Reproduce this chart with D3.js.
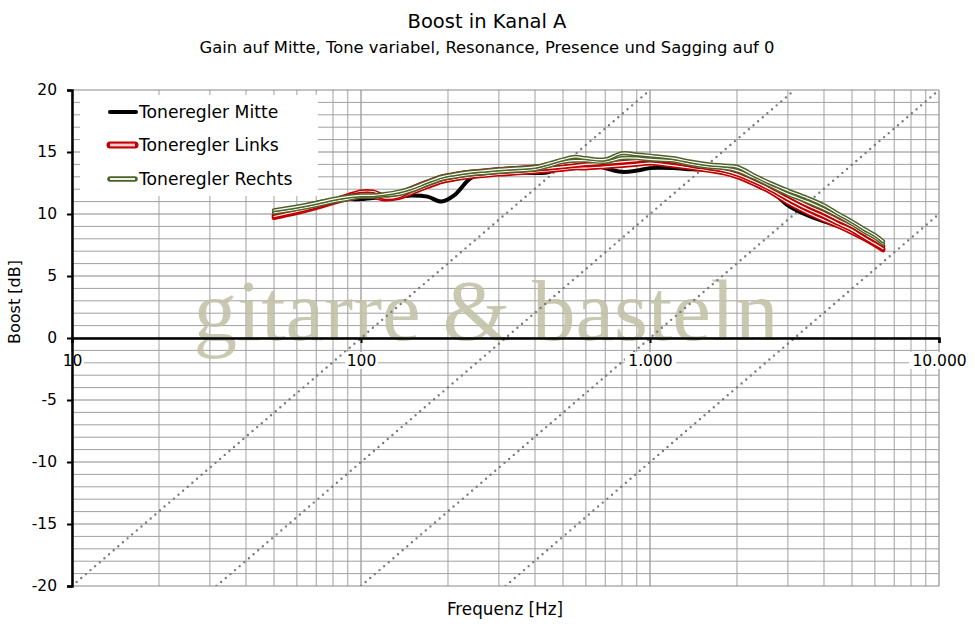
<!DOCTYPE html>
<html><head><meta charset="utf-8">
<script src="https://cdn.jsdelivr.net/npm/d3@7"></script>
<style>body{margin:0;background:#fff}svg{display:block}text{font-family:"DejaVu Sans",sans-serif}</style>
</head><body><svg id="c" width="975" height="630"></svg>
<script>
// ---- data ----
const freqs = [50,60,70,80,90,100,110,120,135,150,170,190,210,240,270,300,350,400,450,500,550,600,700,800,900,1000,1200,1400,1600,1800,2000,2300,2600,3000,3500,4000,4500,5000,5500,6000,6400];
const mitte = [9.9,10.5,10.9,11.1,11.2,11.2,11.3,11.3,11.4,11.5,11.4,11.0,11.5,12.9,13.3,13.5,13.4,13.3,13.4,14.1,14.4,14.3,13.7,13.4,13.5,13.7,13.7,13.6,13.6,13.5,13.4,12.8,12.0,10.7,9.9,9.4,9.0,8.6,8.1,7.6,7.1];
const links1 = [9.9,10.3,10.7,11.1,11.5,11.8,11.8,11.5,11.6,12.1,12.6,13.0,13.2,13.4,13.5,13.6,13.7,13.8,13.9,14.0,14.1,14.2,14.3,14.4,14.5,14.6,14.4,14.1,13.9,13.7,13.4,12.9,12.3,11.5,10.7,10.1,9.5,9.0,8.4,7.9,7.4];
const links2 = [9.8,10.2,10.6,11.0,11.4,11.6,11.6,11.3,11.4,11.9,12.4,12.8,13.0,13.2,13.3,13.4,13.5,13.6,13.7,13.8,13.9,14.0,14.1,14.2,14.3,14.4,14.2,13.9,13.7,13.5,13.2,12.6,12.0,11.2,10.4,9.8,9.2,8.7,8.1,7.6,7.2];
const links3 = [9.7,10.1,10.5,10.9,11.2,11.4,11.4,11.2,11.3,11.7,12.2,12.6,12.8,13.0,13.1,13.2,13.3,13.4,13.5,13.6,13.7,13.7,13.8,13.9,14.0,14.1,13.9,13.7,13.5,13.3,13.0,12.4,11.8,10.9,10.1,9.5,9.0,8.5,8.0,7.5,7.1];
const rechts1 = [10.3,10.6,10.9,11.2,11.4,11.5,11.5,11.6,11.8,12.1,12.6,13.0,13.2,13.4,13.5,13.6,13.7,13.8,14.1,14.4,14.6,14.5,14.4,14.9,14.8,14.7,14.5,14.2,14.0,13.9,13.8,13.1,12.5,11.9,11.3,10.7,10.0,9.4,8.8,8.3,7.8];
const rechts2 = [10.1,10.4,10.7,11.0,11.2,11.4,11.4,11.5,11.6,11.9,12.4,12.8,13.0,13.2,13.3,13.4,13.5,13.6,13.9,14.2,14.3,14.3,14.2,14.5,14.5,14.4,14.3,14.0,13.8,13.7,13.5,12.9,12.3,11.6,11.0,10.4,9.8,9.2,8.6,8.1,7.6];
const yTicks = [-20,-15,-10,-5,0,5,10,15,20];
const xTicks = [10,100,1000,10000];
const guideZeroFreqs = [100,316.23,1000,3162.3]; // 20 dB/decade guide lines, 0 dB crossing
const legendNames = ["Toneregler Mitte","Toneregler Links","Toneregler Rechts"];

// ---- chart ----
const svg = d3.select("#c");
const x = d3.scaleLog().domain([10,10000]).range([72,939]);
const y = d3.scaleLinear().domain([-20,20]).range([586,90]);
const de = d3.formatLocale({decimal:",",thousands:".",grouping:[3],currency:["","€"]});

// grid
const g = svg.append("g");
const minorX = [];
[10,100,1000].forEach(d=>{for(let k=2;k<=9;k++)minorX.push(d*k);});
g.selectAll(".vx").data(minorX).join("line").attr("x1",d=>x(d)).attr("x2",d=>x(d)).attr("y1",y(20)).attr("y2",y(-20)).attr("stroke","#a0a0a0");
g.selectAll(".vM").data(xTicks).join("line").attr("x1",d=>x(d)).attr("x2",d=>x(d)).attr("y1",y(20)).attr("y2",y(-20)).attr("stroke","#7a7a7a");
g.selectAll(".hy").data(d3.range(-20,21)).join("line").attr("x1",x(10)).attr("x2",x(10000)).attr("y1",d=>y(d)).attr("y2",d=>y(d)).attr("stroke",d=>d%5===0?"#888":"#a0a0a0");

// watermark
svg.append("text").attr("x",486).attr("y",340).attr("text-anchor","middle")
  .style("font-family","'Liberation Serif',serif").attr("font-size",86)
  .attr("textLength",585).attr("lengthAdjust","spacingAndGlyphs")
  .attr("fill","#c2c2a8").attr("opacity",0.88).text("gitarre & basteln");

// guide lines
svg.append("clipPath").attr("id","pc").append("rect").attr("x",72).attr("y",90).attr("width",867).attr("height",496);
svg.append("g").attr("clip-path","url(#pc)").selectAll("line").data(guideZeroFreqs).join("line")
  .attr("x1",d=>x(d/10)).attr("y1",y(-20)).attr("x2",d=>x(d*10)).attr("y2",y(20))
  .attr("stroke","#7a7a7a").attr("stroke-width",2.4).attr("stroke-linecap","round").attr("stroke-dasharray","0 6.1");

// x axis at 0
const xa = svg.append("g").attr("transform",`translate(0,${y(0)})`)
  .call(d3.axisBottom(x).tickValues(xTicks).tickFormat(de.format(",")).tickSize(5).tickPadding(12));
xa.select(".domain").attr("stroke","#000").attr("stroke-width",2.5);
xa.selectAll(".tick line").attr("stroke","#000").attr("stroke-width",2);
xa.selectAll(".tick text").attr("font-size",15.5).attr("fill","#000").style("font-family","DejaVu Sans");
xa.selectAll(".tick").insert("rect","text").attr("y",14).attr("height",17).attr("fill","#fff")
  .each(function(d){const w=de.format(",")(d).length*9.5+4;d3.select(this).attr("x",-w/2).attr("width",w);});

// y axis
const ya = svg.append("g").attr("transform",`translate(${x(10)},0)`)
  .call(d3.axisLeft(y).tickValues(yTicks).tickFormat(d=>String(d)).tickSize(5).tickPadding(10));
ya.select(".domain").attr("stroke","#000").attr("stroke-width",2.5);
ya.selectAll(".tick line").attr("stroke","#000").attr("stroke-width",2);
ya.selectAll(".tick text").attr("font-size",15.5).attr("fill","#000").style("font-family","DejaVu Sans");

// curves
const line = d3.line().x(d=>x(d[0])).y(d=>y(d[1])).curve(d3.curveCatmullRom.alpha(0.5));
const mk = arr => freqs.map((f,i)=>[f,arr[i]]);
const cg = svg.append("g").attr("clip-path","url(#pc)");
cg.append("path").attr("d",line(mk(mitte))).attr("fill","none").attr("stroke","#000").attr("stroke-width",4).attr("stroke-linecap","round");
function dbl(arr,col,w){
  cg.append("path").attr("d",line(mk(arr))).attr("fill","none").attr("stroke",col).attr("stroke-width",w).attr("stroke-linecap","round");
  cg.append("path").attr("d",line(mk(arr))).attr("fill","none").attr("stroke","#fff").attr("stroke-width",1.2).attr("stroke-linecap","round");
}
[links3,links1,links2].forEach(a=>dbl(a,"#c00000",4.6));
[rechts2,rechts1].forEach(a=>dbl(a,"#4f6228",4.2));

// legend
svg.append("rect").attr("x",80).attr("y",95).attr("width",238).attr("height",101).attr("fill","#fff");
const lg = svg.append("g");
const ly = [112,145,179];
lg.append("line").attr("x1",110).attr("x2",136).attr("y1",ly[0]).attr("y2",ly[0]).attr("stroke","#000").attr("stroke-width",4).attr("stroke-linecap","round");
lg.append("line").attr("x1",110).attr("x2",135).attr("y1",ly[1]).attr("y2",ly[1]).attr("stroke","#c00000").attr("stroke-width",7).attr("stroke-linecap","round");
lg.append("line").attr("x1",110).attr("x2",135).attr("y1",ly[1]).attr("y2",ly[1]).attr("stroke","#ff9a9a").attr("stroke-width",3);
lg.append("line").attr("x1",110).attr("x2",135).attr("y1",ly[1]).attr("y2",ly[1]).attr("stroke","#fff").attr("stroke-width",1);
lg.append("line").attr("x1",110).attr("x2",135).attr("y1",ly[2]).attr("y2",ly[2]).attr("stroke","#4f6228").attr("stroke-width",5.5).attr("stroke-linecap","round");
lg.append("line").attr("x1",110).attr("x2",135).attr("y1",ly[2]).attr("y2",ly[2]).attr("stroke","#fff").attr("stroke-width",1.8);
lg.selectAll("text").data(legendNames).join("text").attr("x",139).attr("y",(d,i)=>ly[i]+6).attr("font-size",17.2).attr("fill","#000").text(d=>d);

// titles
svg.append("text").attr("x",487).attr("y",28).attr("text-anchor","middle").attr("font-size",19.5).attr("fill","#000").text("Boost in Kanal A");
svg.append("text").attr("x",487).attr("y",53).attr("text-anchor","middle").attr("font-size",16.4).attr("fill","#000").text("Gain auf Mitte, Tone variabel, Resonance, Presence und Sagging auf 0");
svg.append("text").attr("x",505).attr("y",615).attr("text-anchor","middle").attr("font-size",16.8).attr("fill","#000").text("Frequenz [Hz]");
svg.append("text").attr("transform","translate(20,302) rotate(-90)").attr("text-anchor","middle").attr("font-size",16).attr("fill","#000").text("Boost [dB]");
</script></body></html>
